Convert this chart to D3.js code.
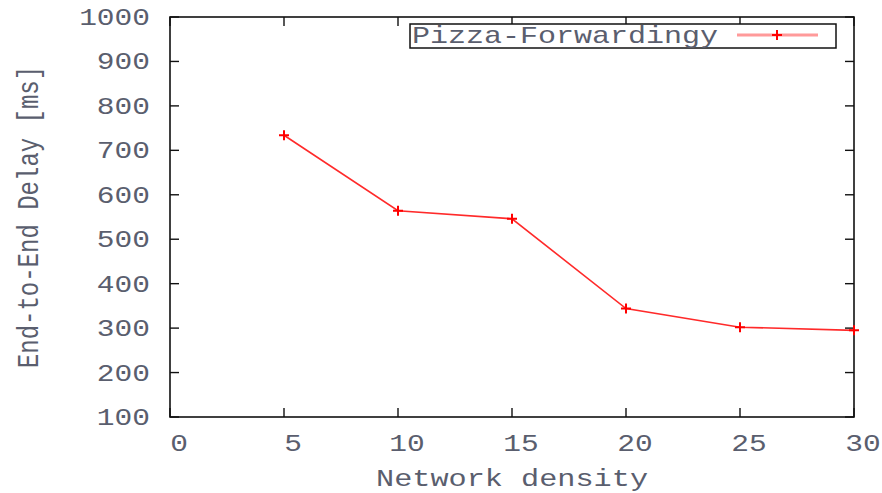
<!DOCTYPE html>
<html>
<head>
<meta charset="utf-8">
<script src="https://cdn.jsdelivr.net/npm/d3@7"></script>
<style>
body { margin: 0; background: #fff; }
text { font-family: "Liberation Mono", "DejaVu Sans Mono", monospace; fill: #5a5e6e; }
</style>
</head>
<body>
<svg id="chart" width="882" height="493"></svg>
<script>
// data
var density = [5, 10, 15, 20, 25, 30];
var delay = [734, 564, 546, 344, 302, 295];
var xTicks = [0, 5, 10, 15, 20, 25, 30];
var yTicks = [100, 200, 300, 400, 500, 600, 700, 800, 900, 1000];
var seriesName = "Pizza-Forwardingy";

var svg = d3.select("#chart");
var margin = {left: 170, right: 28, top: 17, bottom: 76};
var width = 882 - margin.left - margin.right,
	height = 493 - margin.top - margin.bottom;
var sx = 1.23; // text in the picture is stretched sideways

var x = d3.scaleLinear().domain([0, 30]).range([margin.left, margin.left + width]);
var y = d3.scaleLinear().domain([100, 1000]).range([margin.top + height, margin.top]);

var g = svg.append("g");

function label(px, py, txt, anchor, s){
	return g.append("text")
		.attr("transform", "translate(" + px + "," + py + ") scale(" + (s || sx) + ",1)")
		.attr("text-anchor", anchor)
		.style("font-size", "24px")
		.text(txt);
}

// frame
g.append("rect")
	.attr("x", x(0)).attr("y", y(1000))
	.attr("width", x(30) - x(0)).attr("height", y(100) - y(1000))
	.attr("fill", "none").attr("stroke", "#111").attr("stroke-width", 1.6);

// ticks, mirrored on all sides, pointing in
var tl = 9;
xTicks.forEach(function(t){
	g.append("line").attr("x1", x(t)).attr("x2", x(t)).attr("y1", y(100)).attr("y2", y(100) - tl)
		.attr("stroke", "#111").attr("stroke-width", 1.4);
	g.append("line").attr("x1", x(t)).attr("x2", x(t)).attr("y1", y(1000)).attr("y2", y(1000) + tl)
		.attr("stroke", "#111").attr("stroke-width", 1.4);
	label(x(t) + 9, y(100) + 34, t, "middle");
});
yTicks.forEach(function(t){
	g.append("line").attr("x1", x(0)).attr("x2", x(0) + tl).attr("y1", y(t)).attr("y2", y(t))
		.attr("stroke", "#111").attr("stroke-width", 1.4);
	g.append("line").attr("x1", x(30)).attr("x2", x(30) - tl).attr("y1", y(t)).attr("y2", y(t))
		.attr("stroke", "#111").attr("stroke-width", 1.4);
	label(x(0) - 20, y(t) + 8, t, "end");
});

// axis titles
label(x(15), 486, "Network density", "middle", 1.26);
g.append("text")
	.attr("transform", "translate(38," + (margin.top + height / 2) + ") scale(" + sx + ",1) rotate(-90)")
	.attr("text-anchor", "middle")
	.style("font-size", "24px")
	.text("End-to-End Delay [ms]");

// series
var pts = density.map(function(d, i){ return [d, delay[i]]; });
var lineFunction = d3.line()
	.x(function(d){ return x(d[0]); })
	.y(function(d){ return y(d[1]); });

g.append("path")
	.attr("d", lineFunction(pts))
	.attr("fill", "none")
	.attr("stroke", "#ff2a2a")
	.attr("stroke-width", 1.6);

function plus(cx, cy){
	g.append("path")
		.attr("d", "M" + (cx - 5) + "," + cy + "H" + (cx + 5) + "M" + cx + "," + (cy - 5) + "V" + (cy + 5))
		.attr("stroke", "#ff0000").attr("stroke-width", 2);
}
pts.forEach(function(p){ plus(x(p[0]), y(p[1])); });

// legend
g.append("rect")
	.attr("x", 410).attr("y", 24).attr("width", 426).attr("height", 24)
	.attr("fill", "#fff").attr("stroke", "#111").attr("stroke-width", 1.5);
label(412, 43, seriesName, "start", 1.25);
g.append("line").attr("x1", 737).attr("x2", 818).attr("y1", 35).attr("y2", 35)
	.attr("stroke", "#ff9a9a").attr("stroke-width", 3);
plus(777, 35);
</script>
</body>
</html>
